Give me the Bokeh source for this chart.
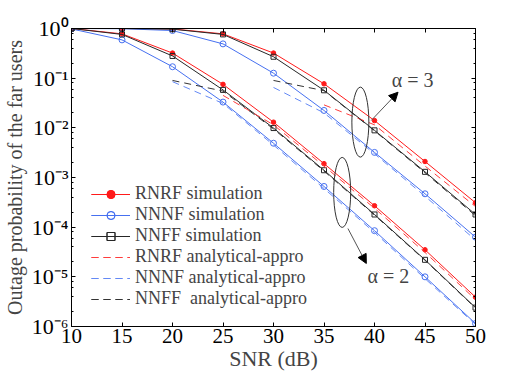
import math
from bokeh.plotting import figure
from bokeh.models import (LinearAxis, LogAxis, Range1d, Legend, LegendItem, Label,
                          Arrow, NormalHead, CustomJSTickFormatter, FixedTicker, LogTicker)
from bokeh.embed import file_html
from bokeh.resources import INLINE

# ---------------- data ----------------
snr = [10, 15, 20, 25, 30, 35, 40, 45, 50]
x_ticks = [10, 15, 20, 25, 30, 35, 40, 45, 50]

# alpha = 2, simulation
rnrf_sim_a2 = [1.0, 0.78, 0.32, 0.075, 0.013, 0.0019, 0.00027, 3.5e-5, 3.9e-6]
nnnf_sim_a2 = [0.98, 0.59, 0.17, 0.033, 0.0049, 0.00066, 8.5e-5, 1.0e-5, 1.15e-6]
nnff_sim_a2 = [1.0, 0.76, 0.28, 0.058, 0.0099, 0.0014, 0.00018, 2.2e-5, 2.4e-6]
# alpha = 3, simulation
rnrf_sim_a3 = [1.0, 1.0, 0.98, 0.78, 0.32, 0.077, 0.014, 0.0021, 0.00031]
nnnf_sim_a3 = [1.0, 0.99, 0.91, 0.49, 0.126, 0.0224, 0.0032, 0.00047, 6.3e-5]
nnff_sim_a3 = [1.0, 1.0, 0.97, 0.76, 0.27, 0.057, 0.0089, 0.0013, 0.00018]

# analytical approximations
snr_an_rnrf_a2 = [25, 30, 35, 40, 45, 50]
rnrf_an_a2 = [0.045, 0.0115, 0.0017, 0.00024, 3.1e-5, 3.5e-6]
snr_an_nnnf_a2 = [20, 25, 30, 35, 40, 45, 50]
nnnf_an_a2 = [0.085, 0.031, 0.0045, 0.0006, 7.8e-5, 9.2e-6, 1.1e-6]
snr_an_nnff_a2 = [20, 25, 30, 35, 40, 45, 50]
nnff_an_a2 = [0.09, 0.055, 0.0095, 0.00135, 0.000175, 2.15e-5, 2.35e-6]

snr_an_rnrf_a3 = [35, 40, 45, 50]
rnrf_an_a3 = [0.029, 0.0115, 0.0017, 0.00026]
snr_an_nnnf_a3 = [30, 35, 40, 45, 50]
nnnf_an_a3 = [0.065, 0.02, 0.003, 0.00042, 5.5e-5]
snr_an_nnff_a3 = [30, 35, 40, 45, 50]
nnff_an_a3 = [0.09, 0.056, 0.0087, 0.00125, 0.00017]

legend_labels = ["RNRF simulation", "NNNF simulation", "NNFF simulation",
                 "RNRF analytical-appro", "NNNF analytical-appro", "NNFF\u00a0 analytical-appro"]

# ---------------- styles ----------------
RED = "#ff1a1a"
BLUE = "#4670f0"
BLACK = "#262626"
RED_D = "#ff3c3c"
BLUE_D = "#6489f5"
BLACK_D = "#333333"
FONT = "Liberation Serif"

p = figure(width=526, height=378, output_backend="svg", toolbar_location=None,
           y_axis_type="log", x_range=Range1d(10, 50), y_range=Range1d(1e-6, 1),
           min_border_left=68, min_border_right=51, min_border_top=28, min_border_bottom=52,
           x_axis_location=None, y_axis_location=None)
p.grid.visible = False
p.outline_line_color = None
p.background_fill_color = "white"

sup_js = """
const sup = {'0':'\u2070','1':'\u00b9','2':'\u00b2','3':'\u00b3','4':'\u2074','5':'\u2075',
             '6':'\u2076','7':'\u2077','8':'\u2078','9':'\u2079','-':'\u207b'};
const e = Math.round(Math.log10(tick));
return '10' + String(e).split('').map(c => sup[c]).join('');
"""

def style_axis(ax, show_labels, size="21px"):
    ax.axis_line_color = "black"
    ax.axis_line_width = 1
    ax.major_tick_in = 4
    ax.major_tick_out = 0
    ax.minor_tick_in = 2
    ax.minor_tick_out = 0
    ax.major_tick_line_color = "black"
    ax.minor_tick_line_color = "black"
    if show_labels:
        ax.major_label_text_font = FONT
        ax.major_label_text_font_size = size
        ax.major_label_text_color = "black"
    else:
        ax.major_label_text_font_size = "1px"
        ax.major_label_text_alpha = 0
        ax.major_label_standoff = 0

xb = LinearAxis(ticker=FixedTicker(ticks=x_ticks))
style_axis(xb, True, "21px")
xb.major_label_standoff = 2
xb.axis_label = "SNR (dB)"
xb.axis_label_text_font = FONT
xb.axis_label_text_font_size = "22px"
xb.axis_label_text_font_style = "normal"
xb.axis_label_standoff = 0
p.add_layout(xb, "below")
xt = LinearAxis(ticker=FixedTicker(ticks=x_ticks))
style_axis(xt, False)
p.add_layout(xt, "above")

yl = LogAxis(ticker=LogTicker(desired_num_ticks=7), formatter=CustomJSTickFormatter(code=sup_js))
style_axis(yl, True, "22px")
yl.major_label_standoff = 3
yl.axis_label = "Outage probability of the far users"
yl.axis_label_text_font = FONT
yl.axis_label_text_font_size = "20px"
yl.axis_label_text_font_style = "normal"
yl.axis_label_standoff = 3
p.add_layout(yl, "left")
yr = LogAxis(ticker=LogTicker(desired_num_ticks=7))
style_axis(yr, False)
p.add_layout(yr, "right")

items = []
sim_sets = [
    (rnrf_sim_a2, rnrf_sim_a3, RED, "circle", RED, 4.5),
    (nnnf_sim_a2, nnnf_sim_a3, BLUE, "circle", None, 6),
    (nnff_sim_a2, nnff_sim_a3, BLACK, "square", None, 5),
]
for (a2, a3, col, mk, fill, sz) in sim_sets:
    rs = []
    for ys in (a2, a3):
        l = p.line(snr, ys, line_color=col, line_width=1)
        s = p.scatter(snr, ys, marker=mk, size=sz, line_color=col,
                      fill_color=fill if fill else "white", fill_alpha=1 if fill else 0, line_width=1)
        rs += [l, s]
    items.append(rs)

an_sets = [
    ((snr_an_rnrf_a2, rnrf_an_a2), (snr_an_rnrf_a3, rnrf_an_a3), RED_D),
    ((snr_an_nnnf_a2, nnnf_an_a2), (snr_an_nnnf_a3, nnnf_an_a3), BLUE_D),
    ((snr_an_nnff_a2, nnff_an_a2), (snr_an_nnff_a3, nnff_an_a3), BLACK_D),
]
for (s2, s3, col) in an_sets:
    rs = []
    for xs, ys in (s2, s3):
        rs.append(p.line(xs, ys, line_color=col, line_width=1, line_dash="7 5"))
    items.append(rs)

legend = Legend(items=[LegendItem(label=lab, renderers=r) for lab, r in zip(legend_labels, items)],
                location=(20, 17), padding=0, margin=0, spacing=0,
                label_height=20, glyph_height=20, glyph_width=39, label_standoff=5,
                label_text_font=FONT, label_text_font_size="18px",
                border_line_color=None, background_fill_alpha=0)
p.add_layout(legend, "center")

# ---------------- annotations ----------------
ell_x = [38.6, 36.8]
ell_y = [10 ** -1.885, 10 ** -3.3]
p.ellipse(x=ell_x, y=ell_y, width=17, height=70, width_units="screen", height_units="screen",
          fill_color=None, line_color="#333333", line_width=1)

arrow_a3 = (39.68, 0.0141, 42.33, 0.0522)
arrow_a2 = (37.37, 9.4e-5, 39.19, 1.86e-5)
for (x0, y0, x1, y1) in (arrow_a3, arrow_a2):
    p.add_layout(Arrow(x_start=x0, y_start=y0, x_end=x1, y_end=y1, line_color="#555555", line_width=1,
                       end=NormalHead(size=9, fill_color="black", line_color="black")))

p.add_layout(Label(x=41.7, y=0.094, text="\u03b1 = 3", text_font=FONT, text_font_size="20px",
                   text_baseline="middle", text_align="left"))
p.add_layout(Label(x=39.3, y=1.02e-5, text="\u03b1 = 2", text_font=FONT, text_font_size="20px",
                   text_baseline="middle", text_align="left"))

open("out.html", "w").write(file_html(p, INLINE))
